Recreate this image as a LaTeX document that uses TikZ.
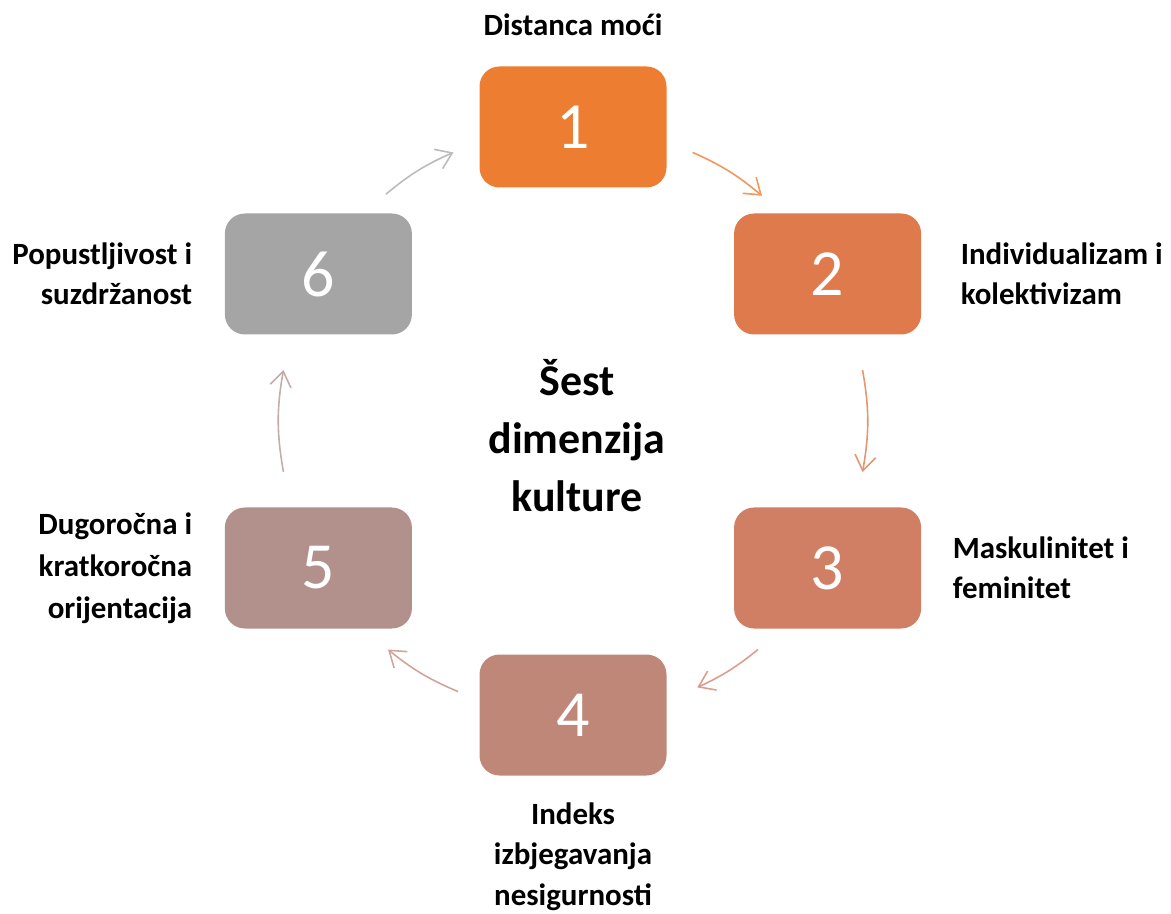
\documentclass[tikz,border=0pt]{standalone}
\usepackage{fontspec}
\setmainfont{Carlito}
\usetikzlibrary{positioning}
\usetikzlibrary{arrows.meta}
\definecolor{dimA}{HTML}{ED7D31}
\definecolor{dimB}{HTML}{DF7A4C}
\definecolor{dimC}{HTML}{D07E64}
\definecolor{dimD}{HTML}{BF8778}
\definecolor{dimE}{HTML}{B2918C}
\definecolor{dimF}{HTML}{A5A5A5}

\begin{document}
\begin{tikzpicture}[
    dimbox/.style={rectangle, rounded corners=0.4cm, minimum width=3.74cm, minimum height=2.42cm, inner sep=0pt, text=white, font=\fontsize{37.5}{40}\selectfont},
    dimlabel/.style={font=\bfseries\fontsize{17.6}{22.8}\selectfont, inner sep=0pt},
    flow/.style={-{Straight Barb[length=0.3cm,width=0.42cm]}, line width=0.9pt}
  ]
  \useasboundingbox (-11.46,8.42) rectangle (11.96,-9.86);

  % Six dimension boxes on a circle
  \node[dimbox, fill=dimA] (box1) at (90:5.88) {1};
  \node[dimbox, fill=dimB] (box2) at (30:5.88) {2};
  \node[dimbox, fill=dimC] (box3) at (-30:5.88) {3};
  \node[dimbox, fill=dimD] (box4) at (-90:5.88) {4};
  \node[dimbox, fill=dimE] (box5) at (-150:5.88) {5};
  \node[dimbox, fill=dimF] (box6) at (150:5.88) {6};

  % Centre title
  \node[font=\bfseries\fontsize{25}{33}\selectfont, align=center] (title) at (0.08,-0.3) {Šest\\dimenzija\\kulture};

  % Labels next to the boxes
  \node[dimlabel, above=0.6cm of box1] (lab1) {Distanca moći};
  \node[dimlabel, align=left, right=0.78cm of box2] (lab2) {Individualizam i\\kolektivizam};
  \node[dimlabel, align=left, right=0.62cm of box3] (lab3) {Maskulinitet i\\feminitet};
  \node[dimlabel, align=center, below=0.54cm of box4] (lab4) {Indeks\\izbjegavanja\\nesigurnosti};
  \node[dimlabel, align=right, left=0.64cm of box5, font=\bfseries\fontsize{17.6}{24}\selectfont] (lab5) {Dugoročna i\\kratkoročna\\orijentacija};
  \node[dimlabel, align=right, left=0.64cm of box6] (lab6) {Popustljivost i\\suzdržanost};

  % Arrow ends on the same circle
  \coordinate (s12) at (66:5.88);
  \coordinate (e12) at (50:5.88);
  \coordinate (s23) at (10:5.88);
  \coordinate (e23) at (-10:5.88);
  \coordinate (s34) at (-51:5.88);
  \coordinate (e34) at (-65:5.88);
  \coordinate (s45) at (-113:5.88);
  \coordinate (e45) at (-129:5.88);
  \coordinate (s56) at (190:5.88);
  \coordinate (e56) at (170:5.88);
  \coordinate (s61) at (129.5:5.88);
  \coordinate (e61) at (114:5.88);

  \draw[flow, dimA!80] (s12) to[bend left=8] (e12);
  \draw[flow, dimB!80] (s23) to[bend left=10] (e23);
  \draw[flow, dimC!75] (s34) to[bend left=7] (e34);
  \draw[flow, dimD!75] (s45) to[bend left=8] (e45);
  \draw[flow, dimE!75] (s56) to[bend left=10] (e56);
  \draw[flow, dimF!75] (s61) to[bend left=8] (e61);
\end{tikzpicture}
\end{document}
